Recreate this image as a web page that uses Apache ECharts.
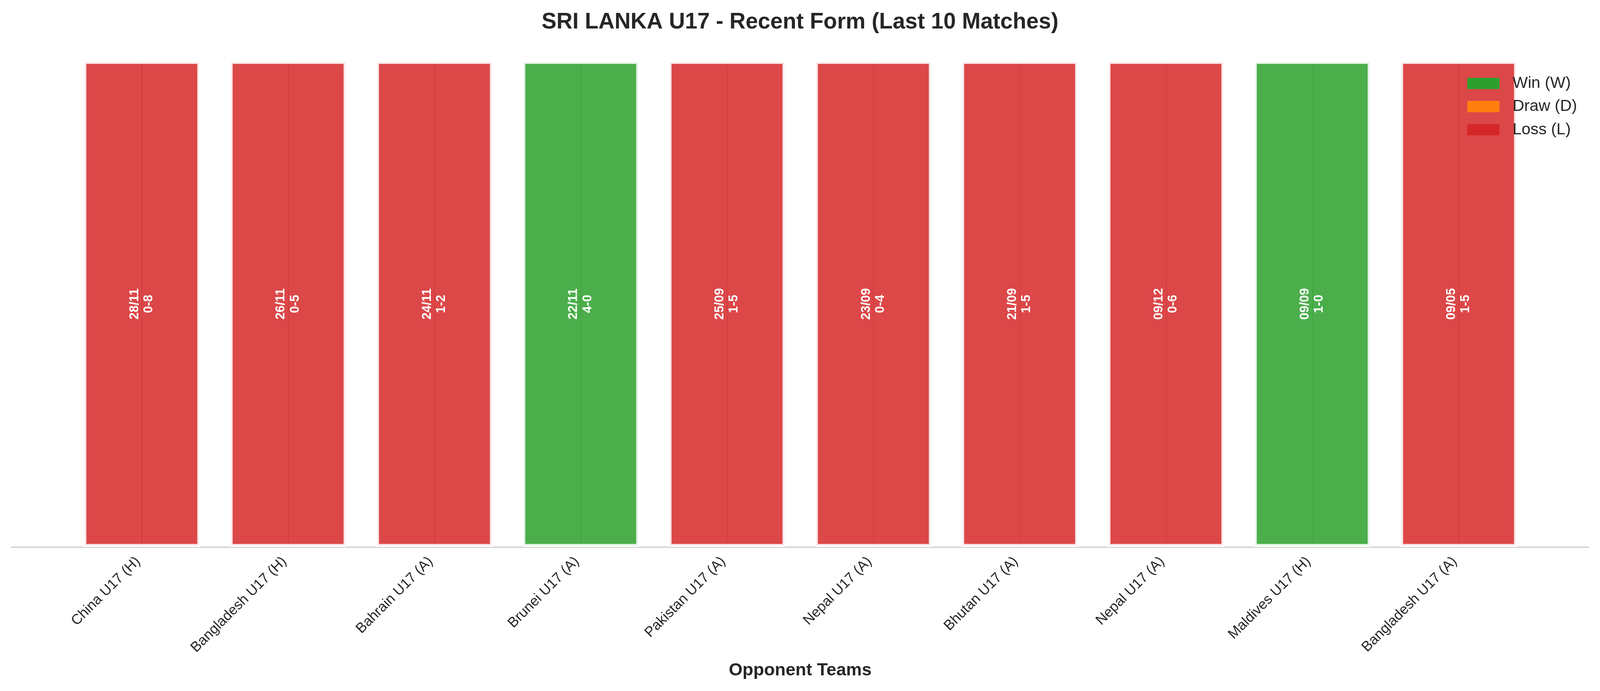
<!DOCTYPE html>
<html><head><meta charset="utf-8">
<script src="https://cdn.jsdelivr.net/npm/echarts@6/dist/echarts.min.js"></script>
<style>html,body{margin:0;padding:0;background:#fff;overflow:hidden}#c{width:100vw;height:100vh}</style>
</head><body><div id="c"></div>
<script>
const opponents = ['China U17 (H)', 'Bangladesh U17 (H)', 'Bahrain U17 (A)', 'Brunei U17 (A)', 'Pakistan U17 (A)', 'Nepal U17 (A)', 'Bhutan U17 (A)', 'Nepal U17 (A)', 'Maldives U17 (H)', 'Bangladesh U17 (A)'];
const dates = ['28/11', '26/11', '24/11', '22/11', '25/09', '23/09', '21/09', '09/12', '09/09', '09/05'];
const scores = ['0-8', '0-5', '1-2', '4-0', '1-5', '0-4', '1-5', '0-6', '1-0', '1-5'];
const results = ['L', 'L', 'L', 'W', 'L', 'L', 'L', 'L', 'W', 'L'];
const outcomeNames = ['Win (W)', 'Draw (D)', 'Loss (L)'];
const outcomeCodes = ['W', 'D', 'L'];
const outcomeColors = ['#2ca02c', '#ff7f0e', '#d62728'];

const FONT = "'Liberation Sans', Arial, sans-serif";
const TXT = '#262626';

const el = document.getElementById('c');
const W = el.clientWidth, H = el.clientHeight;
const sx = W / 4170, sy = H / 1770, s = Math.min(sx, sy);
const X = v => v * sx, Y = v => v * sy, F = v => v * s;

const chart = echarts.init(el, null, {renderer: 'canvas'});

const series = outcomeCodes.map((code, k) => ({
  name: outcomeNames[k],
  type: 'bar',
  xAxisIndex: 0,
  yAxisIndex: 0,
  stack: 'form',
  barWidth: '80%',
  z: 2,
  data: results.map(r => (r === code ? 1 : '-')),
  itemStyle: {color: outcomeColors[k], opacity: 0.85, borderColor: '#ffffff', borderWidth: F(8)},
  emphasis: {disabled: true},
  label: {
    show: true,
    position: 'inside',
    rotate: 90,
    color: '#ffffff',
    opacity: 1,
    fontFamily: FONT,
    fontWeight: 'bold',
    fontSize: F(33),
    lineHeight: F(37),
    align: 'center',
    verticalAlign: 'middle',
    formatter: p => dates[p.dataIndex] + '\n' + scores[p.dataIndex]
  }
}));

chart.setOption({
  animation: false,
  backgroundColor: '#ffffff',
  title: {
    text: 'SRI LANKA U17 - Recent Form (Last 10 Matches)',
    left: 'center',
    top: Y(24),
    textStyle: {fontFamily: FONT, fontWeight: 'bold', fontSize: F(58), color: TXT}
  },
  legend: {
    orient: 'vertical',
    left: X(3819),
    top: Y(188),
    itemWidth: X(84),
    itemHeight: Y(29),
    itemGap: Y(18),
    icon: 'rect',
    data: outcomeNames,
    itemStyle: {opacity: 1, borderWidth: 0},
    textStyle: {fontFamily: FONT, fontSize: F(42), color: TXT, lineHeight: F(42), padding: [0, 0, 0, X(29)]}
  },
  grid: [
    {left: X(179), right: X(178), top: Y(156), bottom: Y(369)},
    {left: X(29), right: X(29), top: Y(156), bottom: Y(369)},
    {left: X(370), right: X(368), top: Y(156), bottom: Y(369)}
  ],
  xAxis: [
    {
      gridIndex: 0,
      type: 'category',
      data: opponents,
      boundaryGap: true,
      axisLine: {show: false},
      axisTick: {show: false},
      splitLine: {show: false},
      axisLabel: {
        interval: 0,
        rotate: 45,
        margin: Y(22),
        padding: [0, F(14), 0, 0],
        fontFamily: FONT,
        fontSize: F(37),
        color: TXT
      },
      name: 'Opponent Teams',
      nameLocation: 'middle',
      nameGap: Y(294),
      nameTextStyle: {fontFamily: FONT, fontWeight: 'bold', fontSize: F(46), color: TXT}
    },
    {
      gridIndex: 1,
      type: 'value',
      min: 0,
      max: 1,
      axisLine: {show: true, lineStyle: {color: '#cccccc', width: F(3)}},
      axisTick: {show: false},
      axisLabel: {show: false},
      splitLine: {show: false}
    },
    {
      gridIndex: 2,
      type: 'category',
      data: opponents,
      boundaryGap: false,
      axisLine: {show: false},
      axisTick: {show: false},
      axisLabel: {show: false},
      splitLine: {show: true, interval: 0, lineStyle: {color: '#cccccc', width: F(3)}}
    }
  ],
  yAxis: [
    {gridIndex: 0, type: 'value', min: 0, max: 1, show: false},
    {gridIndex: 1, type: 'value', min: 0, max: 1, show: false},
    {gridIndex: 2, type: 'value', min: 0, max: 1, show: false}
  ],
  series: series
});
</script>
</body></html>
